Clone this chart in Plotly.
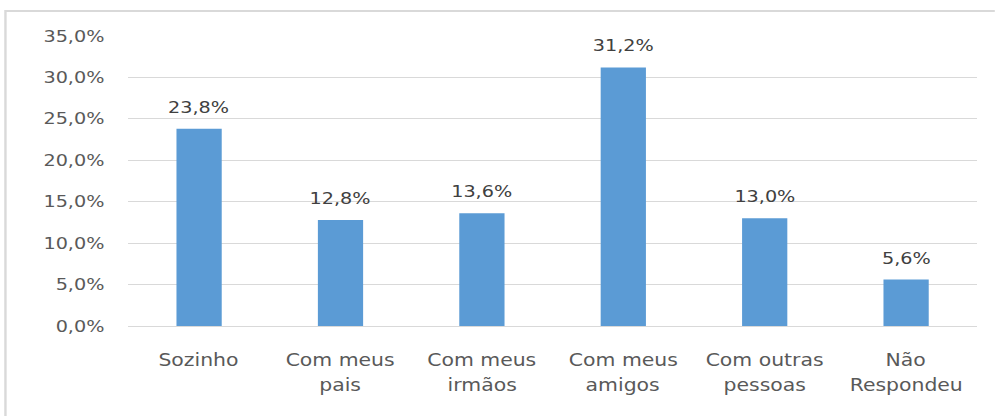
import plotly.graph_objects as go

categories = ["Sozinho", "Com meus<br>pais", "Com meus<br>irmãos", "Com meus<br>amigos",
              "Com outras<br>pessoas", "Não<br>Respondeu"]
values = [23.8, 12.8, 13.6, 31.2, 13.0, 5.6]
value_labels = ["23,8%", "12,8%", "13,6%", "31,2%", "13,0%", "5,6%"]
y_tickvals = [0, 5, 10, 15, 20, 25, 30, 35]
y_ticktext = ["0,0%", "5,0%", "10,0%", "15,0%", "20,0%", "25,0%", "30,0%", "35,0%"]

# the reference is horizontally stretched; draw at a narrower width and stretch
S = 1.2
W_OUT, H = 995, 416
W = int(W_OUT / S)
ml, mr, mt, mb = 128 / S, 18 / S, 36, 90
pw, ph = W - ml - mr, H - mt - mb

FONT = "DejaVu Sans"
FS = 16

fig = go.Figure()
fig.add_trace(go.Bar(
    x=categories, y=values, marker_color="#5b9bd5", width=0.32,
    marker_line_width=0, hoverinfo="skip",
))

for c, v, t in zip(categories, values, value_labels):
    fig.add_annotation(x=c, y=v, text=t, showarrow=False, yanchor="bottom",
                       yshift=10, font=dict(family=FONT, size=FS, color="#404040"))

# category labels, one annotation per line for Excel-like line spacing
for c in categories:
    for i, line in enumerate(c.split("<br>")):
        fig.add_annotation(x=c, y=0, yref="paper", text=line, showarrow=False,
                           yanchor="middle", yshift=-(34 + 25 * i),
                           font=dict(family=FONT, size=FS + 1, color="#595959"))

# outer chart frame
fig.add_shape(type="rect", xref="paper", yref="paper",
              x0=(5 / S - ml) / pw, x1=(W + 5 - ml) / pw,
              y0=-(mb + 5) / ph, y1=(H - 11 - mb) / ph,
              line=dict(color="#d9d9d9", width=2), fillcolor="rgba(0,0,0,0)", layer="below")

fig.update_layout(
    width=W, height=H,
    margin=dict(l=ml, r=mr, t=mt, b=mb, pad=0),
    plot_bgcolor="white", paper_bgcolor="white",
    showlegend=False,
    xaxis=dict(showgrid=False, showline=False, ticks="", showticklabels=False,
               fixedrange=True),
    yaxis=dict(range=[0, 35], tickvals=y_tickvals, ticktext=y_ticktext,
               showgrid=True, gridcolor="#d9d9d9", gridwidth=1,
               zeroline=True, zerolinecolor="#d9d9d9", zerolinewidth=1,
               showline=False, ticks="",
               tickfont=dict(family=FONT, size=FS, color="#595959"),
               ticklabelstandoff=19, fixedrange=True),
)

post = (
    "document.body.style.margin='0';"
    "document.body.style.overflow='hidden';"
    "var gd=document.getElementById('{plot_id}');"
    "gd.style.transformOrigin='0 0';"
    "gd.style.transform='scaleX(%s)';" % S
)

fig.write_html("out.html", post_script=post, config={"displayModeBar": False})
